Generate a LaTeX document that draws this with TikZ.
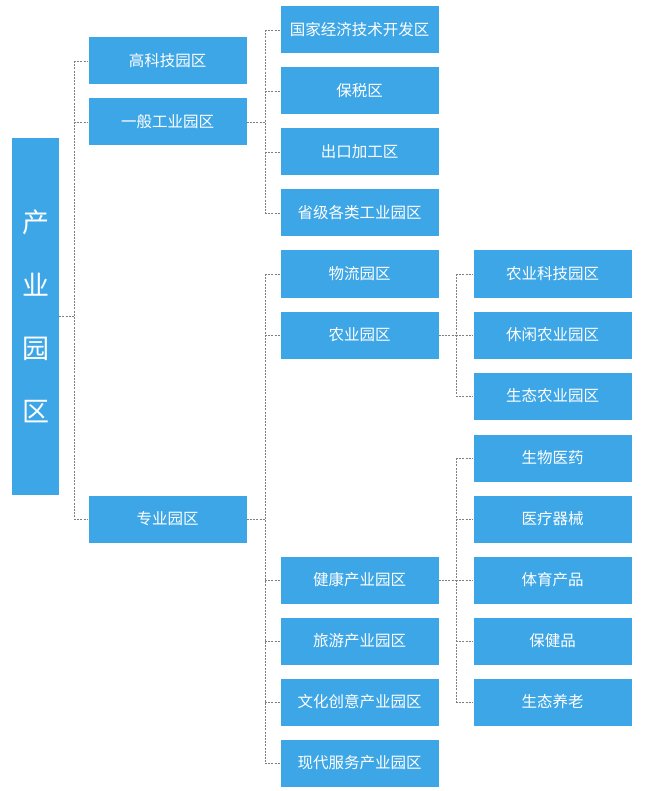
\documentclass[tikz,border=0pt]{standalone}
\usepackage{fontspec}
\setmainfont{Noto Sans CJK SC}
\definecolor{boxblue}{HTML}{3DA6E7}
\definecolor{linegray}{HTML}{7F7F7F}
\begin{document}
\begin{tikzpicture}[x=1pt,y=-1pt,
  box/.style={fill=boxblue, text=white, minimum width=158pt, minimum height=47pt, inner sep=0pt, font=\fontsize{15.5}{18}\selectfont},
  rootbox/.style={fill=boxblue, text=white, minimum width=47pt, minimum height=357pt, inner sep=0pt, align=center, font=\fontsize{27}{63}\selectfont},
  link/.style={draw=linegray, dash pattern=on 2pt off 1.2pt, line width=0.9pt}]
\useasboundingbox (0,0) rectangle (645,791);
% root
\node[rootbox] (root) at (35.5,316.5) {产\\业\\园\\区};
% level 1
\node[box] (hk) at (167.5,61) {高科技园区};
\node[box] (yb) at (167.5,122) {一般工业园区};
\node[box] (zy) at (167.5,519) {专业园区};
% level 2 under 一般工业园区
\node[box] (gj) at (359.5,30) {国家经济技术开发区};
\node[box] (bs) at (359.5,91) {保税区};
\node[box] (ck) at (359.5,152) {出口加工区};
\node[box] (sj) at (359.5,213) {省级各类工业园区};
% level 2 under 专业园区
\node[box] (wl) at (359.5,274) {物流园区};
\node[box] (ny) at (359.5,335) {农业园区};
\node[box] (jk) at (359.5,580) {健康产业园区};
\node[box] (ly) at (359.5,641) {旅游产业园区};
\node[box] (wh) at (359.5,702) {文化创意产业园区};
\node[box] (xd) at (359.5,763) {现代服务产业园区};
% level 3 under 农业园区
\node[box] (nk) at (552.5,274) {农业科技园区};
\node[box] (xx) at (552.5,335) {休闲农业园区};
\node[box] (st) at (552.5,396) {生态农业园区};
% level 3 under 健康产业园区
\node[box] (sw) at (552.5,458) {生物医药};
\node[box] (yl) at (552.5,519) {医疗器械};
\node[box] (ty) at (552.5,580) {体育产品};
\node[box] (bj) at (552.5,641) {保健品};
\node[box] (sl) at (552.5,702) {生态养老};
% bus coordinates
\coordinate (b0) at (74,0);
\coordinate (b1) at (265,0);
\coordinate (b2) at (456,0);
% root -> level 1
\draw[link] (root.east) -- (root.east -| b0);
\draw[link] (b0 |- hk.west) -- (b0 |- zy.west);
\foreach \c in {hk,yb,zy} \draw[link] (b0 |- \c.west) -- (\c.west);
% 一般工业园区 -> children
\draw[link] (yb.east) -- (yb.east -| b1);
\draw[link] (b1 |- gj.west) -- (b1 |- sj.west);
\foreach \c in {gj,bs,ck,sj} \draw[link] (b1 |- \c.west) -- (\c.west);
% 专业园区 -> children
\draw[link] (zy.east) -- (zy.east -| b1);
\draw[link] (b1 |- wl.west) -- (b1 |- xd.west);
\foreach \c in {wl,ny,jk,ly,wh,xd} \draw[link] (b1 |- \c.west) -- (\c.west);
% 农业园区 -> children
\draw[link] (ny.east) -- (ny.east -| b2);
\draw[link] (b2 |- nk.west) -- (b2 |- st.west);
\foreach \c in {nk,xx,st} \draw[link] (b2 |- \c.west) -- (\c.west);
% 健康产业园区 -> children
\draw[link] (jk.east) -- (jk.east -| b2);
\draw[link] (b2 |- sw.west) -- (b2 |- sl.west);
\foreach \c in {sw,yl,ty,bj,sl} \draw[link] (b2 |- \c.west) -- (\c.west);
\end{tikzpicture}
\end{document}
